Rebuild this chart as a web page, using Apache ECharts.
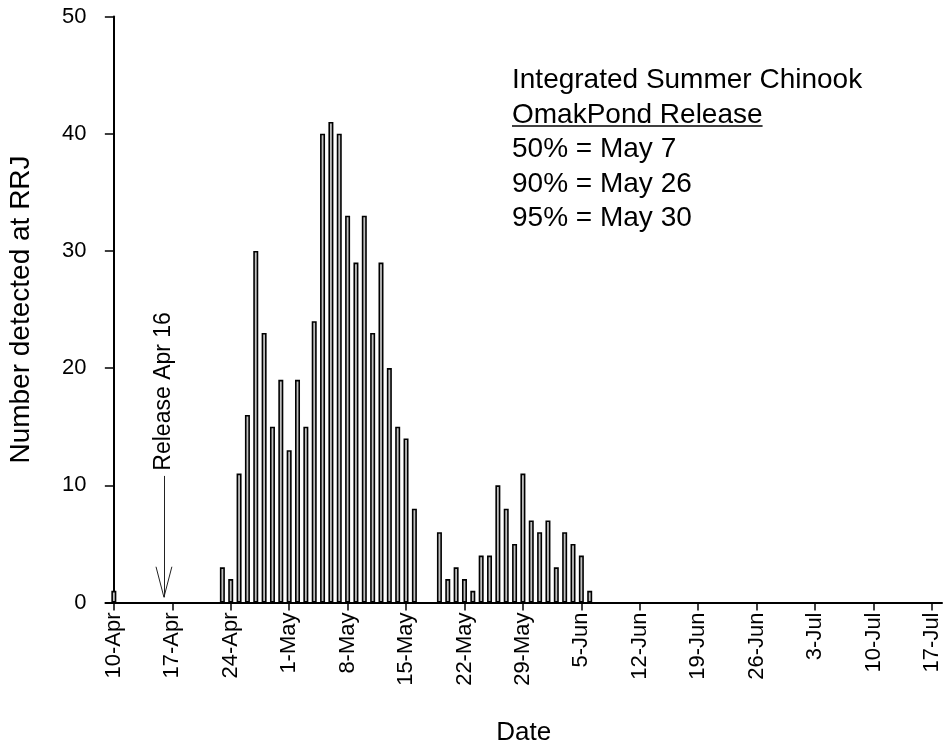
<!DOCTYPE html>
<html>
<head>
<meta charset="utf-8">
<script src="https://cdn.jsdelivr.net/npm/echarts@6/dist/echarts.min.js"></script>
<style>
  html, body { margin: 0; padding: 0; background: #ffffff; }
  #chart { width: 943px; height: 749px; }
</style>
</head>
<body>
<div id="chart"></div>
<script>
// Daily detections at RRJ (month-day) and the number detected on each day
const detectionDates = [
  '04-10',
  '04-23', '04-24', '04-25', '04-26', '04-27', '04-28', '04-29', '04-30',
  '05-01', '05-02', '05-03', '05-04', '05-05', '05-06', '05-07', '05-08',
  '05-09', '05-10', '05-11', '05-12', '05-13', '05-14', '05-15', '05-16',
  '05-19', '05-20', '05-21', '05-22', '05-23', '05-24', '05-25', '05-26',
  '05-27', '05-28', '05-29', '05-30', '05-31', '06-01', '06-02', '06-03',
  '06-04', '06-05', '06-06'
];
const detectionCounts = [
  1,
  3, 2, 11, 16, 30, 23, 15, 19,
  13, 19, 15, 24, 40, 41, 40, 33,
  29, 33, 23, 29, 20, 15, 14, 8,
  6, 2, 3, 2, 1, 4, 4, 10,
  8, 5, 11, 7, 6, 7, 3, 6,
  5, 4, 1
];

// Weekly date ticks along the x axis
const tickDates = ['04-10', '04-17', '04-24', '05-01', '05-08', '05-15', '05-22',
  '05-29', '06-05', '06-12', '06-19', '06-26', '07-03', '07-10', '07-17'];
const tickLabels = ['10-Apr', '17-Apr', '24-Apr', '1-May', '8-May', '15-May', '22-May',
  '29-May', '5-Jun', '12-Jun', '19-Jun', '26-Jun', '3-Jul', '10-Jul', '17-Jul'];

// Text block in the upper right
const noteLines = ['Integrated Summer Chinook', 'OmakPond Release',
  '50% = May 7', '90% = May 26', '95% = May 30'];

// Release marker
const releaseDate = '04-16';
const releaseLabel = 'Release Apr 16';

const FONT = '"Liberation Sans", Arial, sans-serif';

// Whole days counted from 10 April
function dayIndex(md) {
  const [m, d] = md.split('-').map(Number);
  return Math.round((Date.UTC(2001, m - 1, d) - Date.UTC(2001, 3, 10)) / 86400000);
}

const barData = detectionDates.map((d, i) => [dayIndex(d), detectionCounts[i]]);
const tickValues = tickDates.map(dayIndex);
const labelByDay = {};
tickValues.forEach((v, i) => { labelByDay[v] = tickLabels[i]; });

const releaseDay = dayIndex(releaseDate);
const arrowTop = 10.8;   // upper end of the arrow shaft (count units)
const arrowTip = 0.45;   // arrow point, just above the axis
const barbDx = 0.95;     // half-width of the arrow head (days)
const barbDy = 2.6;      // length of the arrow head (count units)

const chart = echarts.init(document.getElementById('chart'), null, { renderer: 'canvas' });

chart.setOption({
  animation: false,
  backgroundColor: '#ffffff',
  grid: { left: 105.5, right: 1, top: 16.5, bottom: 146.5, containLabel: false, outerBoundsMode: 'none' },
  xAxis: {
    type: 'value',
    min: -1,
    max: 99.2,
    splitLine: { show: false },
    axisLine: { show: true, onZero: false, lineStyle: { color: '#000', width: 2 } },
    axisTick: { show: true, inside: false, length: 8, customValues: tickValues,
      lineStyle: { color: '#000', width: 1.5 } },
    axisLabel: {
      customValues: tickValues,
      rotate: 90,
      margin: 10,
      color: '#000',
      fontFamily: FONT,
      fontSize: 22,
      formatter: v => labelByDay[v] || ''
    },
    name: 'Date',
    nameLocation: 'middle',
    nameGap: 117,
    nameTextStyle: { color: '#000', fontFamily: FONT, fontSize: 26 }
  },
  yAxis: {
    type: 'value',
    min: 0,
    max: 50,
    interval: 10,
    splitLine: { show: false },
    axisLine: { show: true, lineStyle: { color: '#000', width: 2 } },
    axisTick: { show: true, inside: false, length: 9, lineStyle: { color: '#000', width: 1.5 } },
    axisLabel: { margin: 19, color: '#000', fontFamily: FONT, fontSize: 22 },
    name: 'Number detected at RRJ',
    nameLocation: 'middle',
    nameRotate: 90,
    nameGap: 70,
    nameTextStyle: { color: '#000', fontFamily: FONT, fontSize: 28 }
  },
  series: [{
    type: 'bar',
    data: barData,
    barWidth: 5,
    itemStyle: { color: '#c0c0c0', borderColor: '#000', borderWidth: 1.6 },
    markLine: {
      silent: true,
      symbol: ['none', 'none'],
      label: { show: false },
      lineStyle: { color: '#222', width: 1, type: 'solid' },
      emphasis: { disabled: true },
      data: [
        [{ coord: [releaseDay, arrowTop] }, { coord: [releaseDay, arrowTip] }],
        [{ coord: [releaseDay - barbDx, arrowTip + barbDy] }, { coord: [releaseDay, arrowTip] }],
        [{ coord: [releaseDay + barbDx, arrowTip + barbDy] }, { coord: [releaseDay, arrowTip] }]
      ]
    }
  }]
});

// Release label above the arrow, and the text block with its underlined heading
const noteFont = 28;
const measure = document.createElement('canvas').getContext('2d');
measure.font = noteFont + 'px ' + FONT;
const headingWidth = measure.measureText(noteLines[1]).width;

const releaseX = chart.convertToPixel({ xAxisIndex: 0 }, releaseDay);
const releaseY = chart.convertToPixel({ yAxisIndex: 0 }, arrowTop + 0.45);

const noteLeft = 512;
const noteTop = 80.5;
const noteStep = 34.5;

const graphics = [{
  type: 'text',
  x: releaseX,
  y: releaseY,
  rotation: Math.PI / 2,
  style: {
    text: releaseLabel, fill: '#000', font: '23px ' + FONT,
    align: 'left', verticalAlign: 'middle'
  },
  silent: true
}];
noteLines.forEach((line, i) => {
  graphics.push({
    type: 'text',
    x: noteLeft,
    y: noteTop + i * noteStep,
    style: { text: line, fill: '#000', font: noteFont + 'px ' + FONT, align: 'left', verticalAlign: 'middle' },
    silent: true
  });
});
graphics.push({
  type: 'line',
  shape: { x1: noteLeft, y1: noteTop + noteStep + 11, x2: noteLeft + headingWidth, y2: noteTop + noteStep + 11 },
  style: { stroke: '#000', lineWidth: 1.5 },
  silent: true
});
chart.setOption({ graphic: graphics });
</script>
</body>
</html>
